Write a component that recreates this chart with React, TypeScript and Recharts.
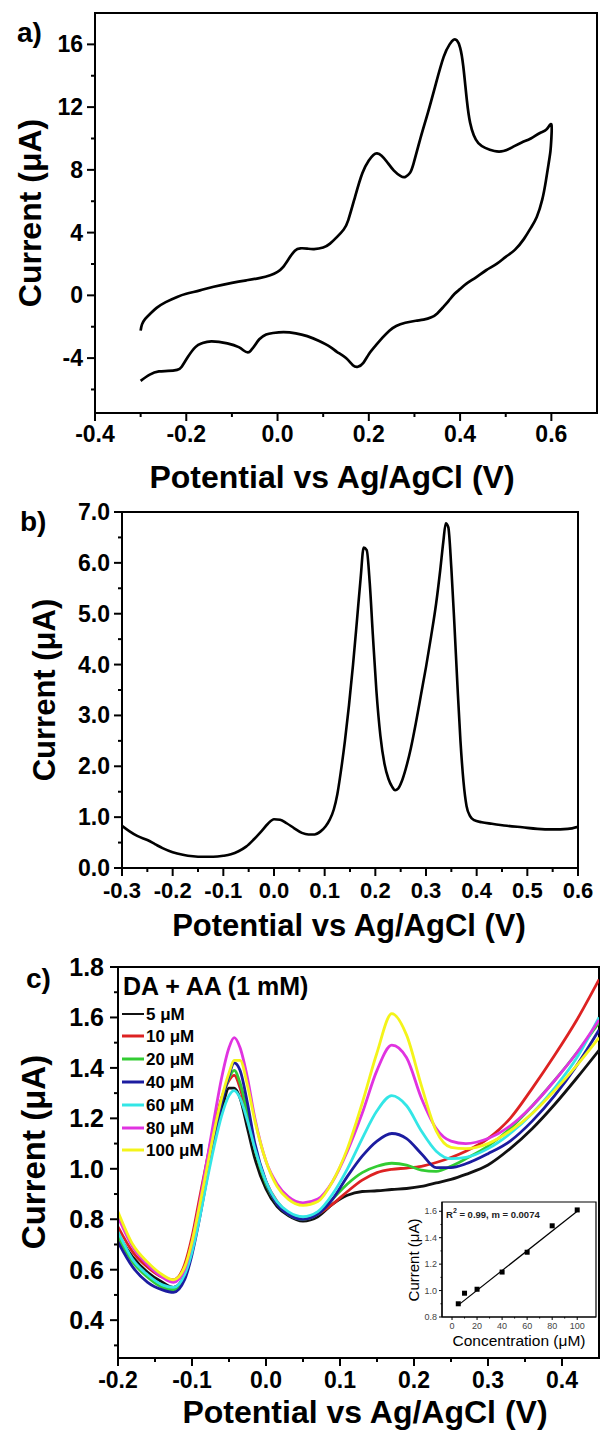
import React from 'react';
import { LineChart, Line, XAxis, YAxis, ReferenceArea, ReferenceLine, ComposedChart, Scatter } from 'recharts';

const FONT = "'Liberation Sans', Arial, Helvetica, sans-serif";

// ---------- Panel a: cyclic voltammogram (in scan order) ----------
const cvForwardPotential = [-0.3, -0.297, -0.29, -0.28, -0.265, -0.245, -0.22, -0.2, -0.17, -0.14, -0.1, -0.068, -0.04, -0.016, 0.0, 0.012, 0.025, 0.038, 0.05, 0.065, 0.08, 0.1, 0.115, 0.131, 0.145, 0.155, 0.17, 0.186, 0.2, 0.21, 0.218, 0.228, 0.24, 0.255, 0.27, 0.28, 0.29, 0.298, 0.313, 0.33, 0.347, 0.364, 0.377, 0.386, 0.393, 0.4, 0.407, 0.415, 0.422, 0.43, 0.44, 0.455, 0.475, 0.495, 0.515, 0.535, 0.555, 0.575, 0.59, 0.6];
const cvForwardCurrent = [-2.25, -1.85, -1.5, -1.2, -0.8, -0.43, -0.1, 0.1, 0.32, 0.55, 0.8, 0.96, 1.1, 1.28, 1.5, 1.8, 2.35, 2.85, 3.0, 2.98, 2.95, 3.05, 3.3, 3.74, 4.2, 4.8, 6.3, 7.8, 8.6, 8.95, 9.05, 8.9, 8.5, 7.95, 7.6, 7.55, 7.8, 8.4, 10.0, 11.7, 13.5, 15.2, 16.0, 16.3, 16.25, 15.8, 14.6, 12.4, 11.0, 10.2, 9.7, 9.4, 9.2, 9.2, 9.45, 9.75, 10.0, 10.35, 10.6, 10.9];
const cvReversePotential = [0.6, 0.598, 0.594, 0.588, 0.58, 0.568, 0.555, 0.54, 0.52, 0.5, 0.48, 0.457, 0.435, 0.414, 0.4, 0.388, 0.375, 0.363, 0.35, 0.337, 0.32, 0.303, 0.28, 0.26, 0.245, 0.23, 0.215, 0.2, 0.188, 0.176, 0.165, 0.15, 0.13, 0.116, 0.09, 0.065, 0.04, 0.013, -0.01, -0.025, -0.04, -0.05, -0.058, -0.065, -0.075, -0.085, -0.11, -0.145, -0.165, -0.18, -0.197, -0.21, -0.22, -0.24, -0.26, -0.28, -0.3];
const cvReverseCurrent = [10.0, 9.2, 8.4, 7.3, 6.1, 5.0, 4.3, 3.6, 2.9, 2.45, 2.0, 1.6, 1.15, 0.75, 0.4, 0.1, -0.35, -0.75, -1.15, -1.4, -1.55, -1.62, -1.75, -1.95, -2.25, -2.7, -3.2, -3.75, -4.3, -4.55, -4.45, -4.0, -3.6, -3.3, -2.9, -2.6, -2.42, -2.35, -2.4, -2.5, -2.8, -3.2, -3.5, -3.64, -3.5, -3.3, -3.06, -2.93, -3.05, -3.3, -3.95, -4.55, -4.75, -4.82, -4.85, -5.05, -5.45];
const aXTicks = [-0.4, -0.3, -0.2, -0.1, 0, 0.1, 0.2, 0.3, 0.4, 0.5, 0.6];
const aXMajor = [-0.4, -0.2, 0, 0.2, 0.4, 0.6];
const aYTicks = [-6, -4, -2, 0, 2, 4, 6, 8, 10, 12, 14, 16];
const aYMajor = [-4, 0, 4, 8, 12, 16];

// ---------- Panel b: DPV ----------
const bPotential = [-0.3, -0.285, -0.27, -0.25, -0.235, -0.22, -0.2, -0.18, -0.16, -0.14, -0.12, -0.1, -0.085, -0.07, -0.055, -0.04, -0.025, -0.012, 0.0, 0.012, 0.025, 0.04, 0.055, 0.068, 0.08, 0.092, 0.102, 0.11, 0.118, 0.125, 0.132, 0.14, 0.148, 0.156, 0.164, 0.171, 0.177, 0.183, 0.189, 0.195, 0.202, 0.21, 0.218, 0.226, 0.233, 0.239, 0.245, 0.252, 0.26, 0.27, 0.28, 0.29, 0.3, 0.31, 0.32, 0.328, 0.334, 0.339, 0.344, 0.35, 0.356, 0.362, 0.368, 0.374, 0.38, 0.387, 0.395, 0.41, 0.43, 0.46, 0.49, 0.52, 0.55, 0.58, 0.6];
const bCurrent = [0.83, 0.72, 0.63, 0.55, 0.47, 0.39, 0.31, 0.26, 0.23, 0.22, 0.22, 0.24, 0.27, 0.33, 0.42, 0.56, 0.72, 0.87, 0.96, 0.95, 0.88, 0.78, 0.69, 0.66, 0.66, 0.72, 0.82, 0.95, 1.15, 1.45, 1.9, 2.5, 3.2, 4.0, 4.9, 5.7, 6.3, 6.25, 5.6, 4.6, 3.5, 2.6, 2.05, 1.75, 1.6, 1.53, 1.56, 1.7, 1.95, 2.35, 2.85, 3.4, 3.95, 4.55, 5.2, 5.85, 6.4, 6.78, 6.7, 5.9, 4.8, 3.6, 2.5, 1.7, 1.22, 1.02, 0.94, 0.9, 0.87, 0.83, 0.8, 0.77, 0.76, 0.77, 0.81];
const bXTicks = [-0.3, -0.25, -0.2, -0.15, -0.1, -0.05, 0, 0.05, 0.1, 0.15, 0.2, 0.25, 0.3, 0.35, 0.4, 0.45, 0.5, 0.55, 0.6];
const bXMajor = [-0.3, -0.2, -0.1, 0, 0.1, 0.2, 0.3, 0.4, 0.5, 0.6];
const bYTicks = [0, 0.5, 1, 1.5, 2, 2.5, 3, 3.5, 4, 4.5, 5, 5.5, 6, 6.5, 7];
const bYMajor = [0, 1, 2, 3, 4, 5, 6, 7];

// ---------- Panel c: DPV at several DA concentrations ----------
const cPotential = [-0.2, -0.18, -0.16, -0.14, -0.125, -0.11, -0.1, -0.09, -0.08, -0.07, -0.06, -0.05, -0.043, -0.035, -0.025, -0.015, 0.0, 0.015, 0.03, 0.05, 0.07, 0.09, 0.11, 0.13, 0.15, 0.17, 0.19, 0.21, 0.23, 0.25, 0.27, 0.3, 0.33, 0.36, 0.39, 0.42, 0.45];
const c5 = [0.74, 0.65, 0.59, 0.55, 0.53, 0.58, 0.68, 0.82, 0.97, 1.11, 1.23, 1.32, 1.32, 1.28, 1.16, 1.04, 0.92, 0.85, 0.815, 0.793, 0.81, 0.86, 0.895, 0.91, 0.913, 0.918, 0.922, 0.93, 0.944, 0.958, 0.978, 1.015, 1.08, 1.16, 1.255, 1.36, 1.47];
const c10 = [0.77, 0.67, 0.61, 0.57, 0.56, 0.62, 0.73, 0.88, 1.03, 1.17, 1.28, 1.35, 1.37, 1.32, 1.2, 1.08, 0.95, 0.87, 0.825, 0.8, 0.82, 0.86, 0.91, 0.955, 0.985, 0.998, 1.003, 1.01, 1.025, 1.045, 1.07, 1.12, 1.2, 1.32, 1.45, 1.59, 1.75];
const c20 = [0.73, 0.63, 0.57, 0.53, 0.52, 0.58, 0.68, 0.83, 0.99, 1.14, 1.27, 1.36, 1.39, 1.34, 1.22, 1.08, 0.94, 0.86, 0.82, 0.8, 0.82, 0.88, 0.94, 0.985, 1.01, 1.022, 1.015, 0.995, 0.99, 1.01, 1.04, 1.09, 1.16, 1.25, 1.35, 1.46, 1.58];
const c40 = [0.71, 0.61, 0.55, 0.52, 0.51, 0.56, 0.66, 0.8, 0.96, 1.12, 1.26, 1.37, 1.42, 1.39, 1.26, 1.1, 0.95, 0.86, 0.82, 0.8, 0.82, 0.88, 0.97, 1.05, 1.11, 1.14, 1.12, 1.06, 1.005, 1.005, 1.02, 1.06, 1.11, 1.19, 1.29, 1.41, 1.55];
const c60 = [0.75, 0.64, 0.58, 0.54, 0.53, 0.58, 0.67, 0.8, 0.95, 1.09, 1.21, 1.29, 1.31, 1.28, 1.19, 1.08, 0.95, 0.87, 0.83, 0.81, 0.83, 0.9, 1.0, 1.12, 1.23, 1.29, 1.25, 1.15, 1.07, 1.04, 1.045, 1.08, 1.14, 1.22, 1.32, 1.44, 1.6];
const c80 = [0.81, 0.69, 0.62, 0.57, 0.55, 0.6, 0.71, 0.86, 1.03, 1.2, 1.36, 1.48, 1.52, 1.48, 1.36, 1.2, 1.03, 0.94, 0.89, 0.865, 0.88, 0.95, 1.07, 1.22, 1.39, 1.49, 1.44, 1.28, 1.16, 1.11, 1.1, 1.12, 1.17, 1.25, 1.35, 1.46, 1.59];
const c100 = [0.83, 0.7, 0.63, 0.58, 0.56, 0.61, 0.71, 0.85, 1.0, 1.15, 1.28, 1.38, 1.43, 1.43, 1.33, 1.19, 1.03, 0.93, 0.88, 0.855, 0.87, 0.95, 1.08, 1.26, 1.46, 1.615, 1.53, 1.33, 1.15, 1.085, 1.08, 1.1, 1.15, 1.22, 1.31, 1.41, 1.52];
const cLabels = ['5 μM', '10 μM', '20 μM', '40 μM', '60 μM', '80 μM', '100 μM'];
const cColors = ['#111111', '#dd2222', '#33cc33', '#1c1ca0', '#33e6e6', '#e033e0', '#f4f41a'];
const cXTicks = [-0.2, -0.15, -0.1, -0.05, 0, 0.05, 0.1, 0.15, 0.2, 0.25, 0.3, 0.35, 0.4];
const cXMajor = [-0.2, -0.1, 0, 0.1, 0.2, 0.3, 0.4];
const cYTicks = [0.3, 0.4, 0.5, 0.6, 0.7, 0.8, 0.9, 1.0, 1.1, 1.2, 1.3, 1.4, 1.5, 1.6, 1.7, 1.8];
const cYMajor = [0.4, 0.6, 0.8, 1.0, 1.2, 1.4, 1.6, 1.8];

// ---------- Inset: calibration ----------
const insetConc = [5, 10, 20, 40, 60, 80, 100];
const insetCurrent = [0.9, 0.98, 1.01, 1.14, 1.29, 1.49, 1.61];
const fitStart = { x: 5, y: 0.89 };
const fitEnd = { x: 100, y: 1.6 };
const iXTicks = [0, 10, 20, 30, 40, 50, 60, 70, 80, 90, 100];
const iXMajor = [0, 20, 40, 60, 80, 100];
const iYTicks = [0.8, 0.9, 1.0, 1.1, 1.2, 1.3, 1.4, 1.5, 1.6];
const iYMajor = [0.8, 1.0, 1.2, 1.4, 1.6];

const cvData = [
  ...cvForwardPotential.map((v, k) => ({ v, i: cvForwardCurrent[k] })),
  ...cvReversePotential.map((v, k) => ({ v, i: cvReverseCurrent[k] })),
];
const bData = bPotential.map((v, k) => ({ v, i: bCurrent[k] }));
const cSeries = [c5, c10, c20, c40, c60, c80, c100];
const cData = cPotential.map((v, k) => {
  const row: any = { v };
  cSeries.forEach((s, j) => { row['s' + j] = s[k]; });
  return row;
});
const insetData = insetConc.map((x, k) => ({ x, y: insetCurrent[k] }));

const isIn = (arr: number[], v: number) => arr.some((m) => Math.abs(m - v) < 1e-9);

function xTick(majors: number[], size: number, dy: number, fmt: (v: number) => string, major = 8, minor = 4, sw = 2, color = '#000', weight = 700) {
  return (props: any) => {
    const { x, y, payload } = props;
    const v = payload.value;
    const mj = isIn(majors, v);
    return (
      <g>
        <line x1={x} y1={y} x2={x} y2={y + (mj ? major : minor)} stroke="#000" strokeWidth={sw} />
        {mj && (
          <text x={x} y={y + dy} textAnchor="middle" dominantBaseline="central" fontSize={size} fontWeight={weight} fontFamily={FONT} fill={color}>
            {fmt(v)}
          </text>
        )}
      </g>
    );
  };
}

function yTick(majors: number[], size: number, dx: number, fmt: (v: number) => string, major = 8, minor = 4, sw = 2, color = '#000', weight = 700) {
  return (props: any) => {
    const { x, y, payload } = props;
    const v = payload.value;
    const mj = isIn(majors, v);
    return (
      <g>
        <line x1={x} y1={y} x2={x - (mj ? major : minor)} y2={y} stroke="#000" strokeWidth={sw} />
        {mj && (
          <text x={x - dx} y={y} textAnchor="end" dominantBaseline="central" fontSize={size} fontWeight={weight} fontFamily={FONT} fill={color}>
            {fmt(v)}
          </text>
        )}
      </g>
    );
  };
}

function hTitle(text: string, cx: number, cy: number, size: number, weight = 700) {
  return () => (
    <text x={cx} y={cy} textAnchor="middle" dominantBaseline="central" fontSize={size} fontWeight={weight} fontFamily={FONT} fill="#000">
      {text}
    </text>
  );
}

function vTitle(text: string, cx: number, cy: number, size: number, weight = 700) {
  return () => (
    <text x={cx} y={cy} transform={`rotate(-90 ${cx} ${cy})`} textAnchor="middle" dominantBaseline="central" fontSize={size} fontWeight={weight} fontFamily={FONT} fill="#000">
      {text}
    </text>
  );
}

const f1 = (v: number) => v.toFixed(1);
const f0 = (v: number) => String(Math.round(v));
const square = (props: any) => <rect x={props.cx - 2.5} y={props.cy - 2.5} width={5} height={5} fill="#000" />;

export default function App() {
  return (
    <div style={{ position: 'absolute', left: 0, top: 0, width: 600, height: 1431, background: '#fff', overflow: 'hidden' }}>
      {/* Panel a */}
      <div style={{ position: 'absolute', left: 0, top: 0 }}>
        <LineChart width={600} height={500} data={cvData} margin={{ top: 13, right: 3, bottom: 0, left: 0 }}>
          <XAxis dataKey="v" type="number" domain={[-0.4, 0.7]} allowDataOverflow ticks={aXTicks} interval={0}
            tickSize={0} tickMargin={0} tickLine={false} axisLine={{ stroke: '#000', strokeWidth: 2 }} height={87}
            tick={xTick(aXMajor, 23, 21, f1)} label={hTitle('Potential vs Ag/AgCl (V)', 332, 477, 32)} />
          <YAxis type="number" domain={[-7.5, 18]} allowDataOverflow ticks={aYTicks} interval={0} width={95}
            tickSize={0} tickMargin={0} tickLine={false} axisLine={{ stroke: '#000', strokeWidth: 2 }}
            tick={yTick(aYMajor, 23, 12, f0)} label={vTitle('Current (μA)', 30, 213, 32)} />
          <ReferenceArea x1={-0.4} x2={0.7} y1={-7.5} y2={18} fill="none" stroke="#000" strokeWidth={2} ifOverflow="visible" />
          <Line dataKey="i" type="natural" stroke="#000" strokeWidth={2.7} dot={false} isAnimationActive={false} />
        </LineChart>
      </div>

      {/* Panel b */}
      <div style={{ position: 'absolute', left: 0, top: 500 }}>
        <LineChart width={600} height={450} data={bData} margin={{ top: 12, right: 22, bottom: 0, left: 0 }}>
          <XAxis dataKey="v" type="number" domain={[-0.3, 0.6]} allowDataOverflow ticks={bXTicks} interval={0}
            tickSize={0} tickMargin={0} tickLine={false} axisLine={{ stroke: '#000', strokeWidth: 2 }} height={82}
            tick={xTick(bXMajor, 22, 22, f1)} label={hTitle('Potential vs Ag/AgCl (V)', 349, 425, 31)} />
          <YAxis type="number" domain={[0, 7]} allowDataOverflow ticks={bYTicks} interval={0} width={122}
            tickSize={0} tickMargin={0} tickLine={false} axisLine={{ stroke: '#000', strokeWidth: 2 }}
            tick={yTick(bYMajor, 23, 12, f1)} label={vTitle('Current (μA)', 44, 190, 31)} />
          <ReferenceArea x1={-0.3} x2={0.6} y1={0} y2={7} fill="none" stroke="#000" strokeWidth={2} ifOverflow="visible" />
          <Line dataKey="i" type="monotone" stroke="#000" strokeWidth={2.6} dot={false} isAnimationActive={false} />
        </LineChart>
      </div>

      {/* Panel c */}
      <div style={{ position: 'absolute', left: 0, top: 950 }}>
        <LineChart width={600} height={481} data={cData} margin={{ top: 17, right: 1, bottom: 0, left: 0 }}>
          <XAxis dataKey="v" type="number" domain={[-0.2, 0.45]} allowDataOverflow ticks={cXTicks} interval={0}
            tickSize={0} tickMargin={0} tickLine={false} axisLine={{ stroke: '#000', strokeWidth: 2 }} height={73}
            tick={xTick(cXMajor, 23, 22, f1)} label={hTitle('Potential vs Ag/AgCl (V)', 365, 462, 32)} />
          <YAxis type="number" domain={[0.25, 1.8]} allowDataOverflow ticks={cYTicks} interval={0} width={118}
            tickSize={0} tickMargin={0} tickLine={false} axisLine={{ stroke: '#000', strokeWidth: 2 }}
            tick={yTick(cYMajor, 25, 14, f1)} label={vTitle('Current (μA)', 33, 202, 33)} />
          <ReferenceArea x1={-0.2} x2={0.45} y1={0.25} y2={1.8} fill="none" stroke="#000" strokeWidth={2} ifOverflow="visible" />
          {cSeries.map((_, j) => (
            <Line key={j} dataKey={'s' + j} type="monotone" stroke={cColors[j]} strokeWidth={2.8} dot={false} isAnimationActive={false} />
          ))}
        </LineChart>
      </div>

      {/* Inset */}
      <div style={{ position: 'absolute', left: 400, top: 1190 }}>
        <ComposedChart width={200} height={160} margin={{ top: 12, right: 4, bottom: 0, left: 0 }}>
          <XAxis dataKey="x" type="number" domain={[-8, 115]} allowDataOverflow ticks={iXTicks} interval={0}
            tickSize={0} tickMargin={0} tickLine={false} axisLine={{ stroke: '#000', strokeWidth: 1.2 }} height={33}
            tick={xTick(iXMajor, 9, 9, f0, 3, 1.5, 1, '#444', 400)} label={hTitle('Concentration (μM)', 119, 150, 15.5, 400)} />
          <YAxis dataKey="y" type="number" domain={[0.8, 1.67]} allowDataOverflow ticks={iYTicks} interval={0} width={42}
            tickSize={0} tickMargin={0} tickLine={false} axisLine={{ stroke: '#000', strokeWidth: 1.2 }}
            tick={yTick(iYMajor, 9, 5, f1, 3, 1.5, 1, '#444', 400)} label={vTitle('Current (μA)', 13, 70, 15, 400)} />
          <ReferenceArea x1={-8} x2={115} y1={0.8} y2={1.67} fill="#fff" fillOpacity={0} stroke="#000" strokeWidth={1.2} ifOverflow="visible" />
          <ReferenceLine segment={[fitStart, fitEnd]} stroke="#000" strokeWidth={1.2} />
          <Scatter data={insetData} dataKey="y" shape={square} isAnimationActive={false} />
        </ComposedChart>
      </div>

      {/* Panel letters, legend, inset annotation */}
      <svg width={600} height={1431} style={{ position: 'absolute', left: 0, top: 0, pointerEvents: 'none' }}>
        <text x={17} y={42} fontSize={28} fontWeight={700} fontFamily={FONT} fill="#000">a)</text>
        <text x={20} y={531} fontSize={28} fontWeight={700} fontFamily={FONT} fill="#000">b)</text>
        <text x={26} y={988} fontSize={28} fontWeight={700} fontFamily={FONT} fill="#000">c)</text>
        <text x={123} y={986} dominantBaseline="central" fontSize={25} fontWeight={700} fontFamily={FONT} fill="#000">DA + AA (1 mM)</text>
        {cLabels.map((lab, j) => {
          const yy = [1014, 1036, 1059, 1082, 1105, 1128, 1150][j];
          return (
            <g key={lab}>
              <line x1={122} y1={yy} x2={144} y2={yy} stroke={cColors[j]} strokeWidth={j === 0 ? 2 : 3} />
              <text x={146} y={yy} dominantBaseline="central" fontSize={17} fontWeight={700} fontFamily={FONT} fill="#000">{lab}</text>
            </g>
          );
        })}
        <text x={446} y={1214} dominantBaseline="central" fontSize={9.5} fontWeight={700} fontFamily={FONT} fill="#222">
          R<tspan dy={-4} fontSize={7}>2</tspan><tspan dy={4}> = 0.99, m = 0.0074</tspan>
        </text>
      </svg>
    </div>
  );
}
